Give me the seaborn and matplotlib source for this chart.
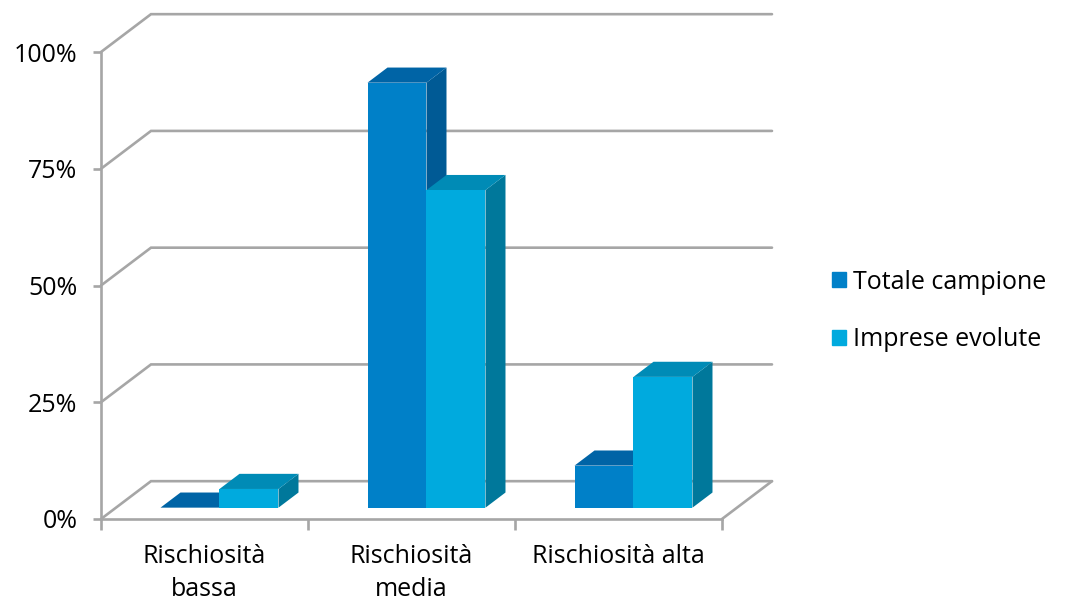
import seaborn as sns
import matplotlib.pyplot as plt
import pandas as pd
from matplotlib.patches import Polygon, Patch

# data
categories = ["Rischiosità\nbassa", "Rischiosità\nmedia", "Rischiosità alta"]
series = ["Totale campione", "Imprese evolute"]
totale = [0, 91, 9]
evolute = [4, 68, 28]
yticks = [0, 25, 50, 75, 100]
ytick_labels = ["0%", "25%", "50%", "75%", "100%"]

front_colors = ["#0080c8", "#00aade"]
top_colors = ["#0064a6", "#008bb6"]
side_colors = ["#005a95", "#00789b"]
grid_color = "#a6a6a6"

df = pd.DataFrame({
    "cat": categories * 2,
    "serie": [series[0]] * 3 + [series[1]] * 3,
    "val": totale + evolute,
})

sns.set_style("white")
plt.rcParams["font.family"] = ["Open Sans", "DejaVu Sans"]
plt.rcParams["text.color"] = "black"
fsize = 18

fig = plt.figure(figsize=(10.66, 6.09), dpi=100)
# axes = front plane of the 3d box
ax = fig.add_axes([101 / 1066, 90 / 609, 621 / 1066, 467 / 609])
sns.barplot(data=df, x="cat", y="val", hue="serie", palette=front_colors,
            saturation=1, width=0.57, gap=0, legend=False, ax=ax,
            linewidth=0, edgecolor="none")
ax.set_xlim(-0.5, 2.5)
ax.set_ylim(0, 100)

# depth of the floor in data units, bars sit between 30% and 70% of it
dxF, dyF = 0.2415, 8.1
f_front, f_depth = 0.3, 0.4
ddx, ddy = f_depth * dxF, f_depth * dyF

bars = sorted(ax.patches, key=lambda p: p.get_x())
for k, p in enumerate(bars):
    hue_idx = k % 2
    x0 = p.get_x() + f_front * dxF
    base = f_front * dyF
    h = p.get_height()
    w = p.get_width()
    p.set_x(x0)
    p.set_y(base)
    p.set_clip_on(False)
    top = base + h
    z = 3 + k * 3
    p.set_zorder(z + 2)
    side = Polygon([(x0 + w, base), (x0 + w, top), (x0 + w + ddx, top + ddy),
                    (x0 + w + ddx, base + ddy)], closed=True,
                   facecolor=side_colors[hue_idx], edgecolor="none",
                   zorder=z, clip_on=False)
    topf = Polygon([(x0, top), (x0 + w, top), (x0 + w + ddx, top + ddy),
                    (x0 + ddx, top + ddy)], closed=True,
                   facecolor=top_colors[hue_idx], edgecolor="none",
                   zorder=z + 1, clip_on=False)
    ax.add_patch(side)
    ax.add_patch(topf)

# back wall gridlines and floor
for v in yticks:
    ax.plot([-0.5, -0.5 + dxF, 2.5 + dxF], [v, v + dyF, v + dyF],
            color=grid_color, lw=1.9, clip_on=False, zorder=1,
            solid_joinstyle="miter")
ax.plot([2.5, 2.5 + dxF], [0, dyF], color=grid_color, lw=1.9,
        clip_on=False, zorder=1)

for s in ["top", "right"]:
    ax.spines[s].set_visible(False)
for s in ["left", "bottom"]:
    ax.spines[s].set_color(grid_color)
    ax.spines[s].set_linewidth(1.9)
    ax.spines[s].set_zorder(1)

ax.set_yticks(yticks, ytick_labels)
ax.set_xticks([-0.5, 0.5, 1.5, 2.5], ["", "", "", ""])
ax.set_xticks([0, 1, 2], categories, minor=True)
ax.tick_params(axis="y", left=True, length=6, width=1.9, color=grid_color,
               pad=11, labelsize=fsize, labelcolor="black")
ax.tick_params(axis="x", which="major", bottom=True, length=8, width=1.9,
               color=grid_color)
ax.tick_params(axis="x", which="minor", bottom=True, length=0, pad=18,
               labelsize=fsize, labelcolor="black")
for lbl in ax.get_xticklabels(minor=True):
    lbl.set_linespacing(1.4)
ax.set_xlabel("")
ax.set_ylabel("")

handles = [Patch(color=c, label=s) for c, s in zip(front_colors, series)]
fig.legend(handles=handles, loc="center left",
           bbox_to_anchor=(832 / 1066, 1 - 311 / 609), frameon=False,
           fontsize=fsize, handlelength=0.55, handleheight=0.55,
           handletextpad=0.3, labelspacing=1.3, borderpad=0,
           borderaxespad=0, labelcolor="black")

fig.savefig("out.png", dpi=100)
